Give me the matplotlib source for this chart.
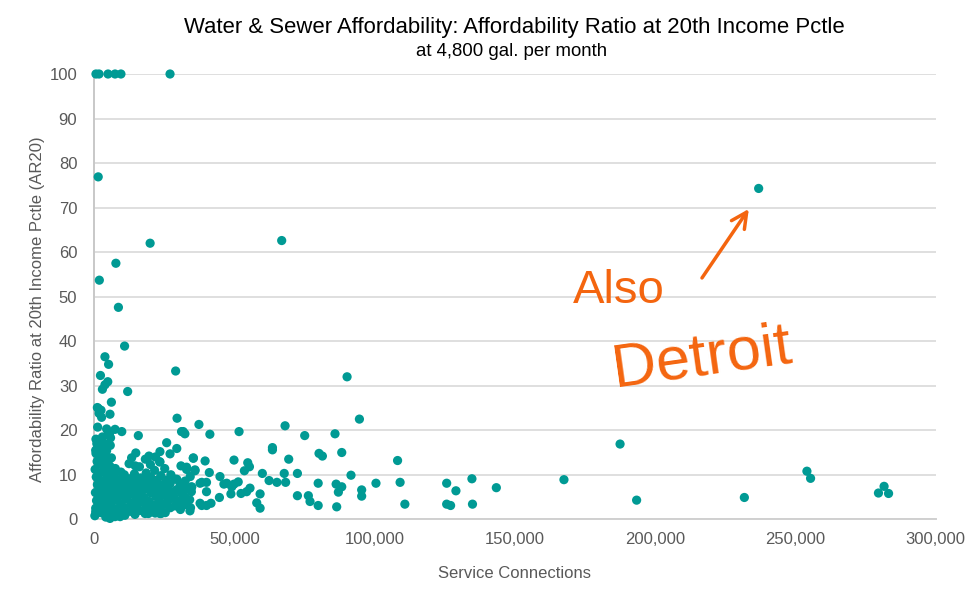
import matplotlib
matplotlib.use("Agg")
import matplotlib.pyplot as plt
from matplotlib.ticker import FuncFormatter

plt.rcParams['font.family'] = ['Liberation Sans', 'DejaVu Sans']

TITLE = "Water & Sewer Affordability: Affordability Ratio at 20th Income Pctle"
SUBTITLE = "at 4,800 gal. per month"
X_LABEL = "Service Connections"
Y_LABEL = "Affordability Ratio at 20th Income Pctle (AR20)"
NOTE_1 = "Also"
NOTE_2 = "Detroit"

x_ticks = [0, 50000, 100000, 150000, 200000, 250000, 300000]
y_ticks = [0, 10, 20, 30, 40, 50, 60, 70, 80, 90, 100]

# Sparse / outlying systems
x_sparse = [700, 1800, 5000, 7500, 9600, 27100, 1500, 20000, 66900, 7800, 1900, 8700,
            10900, 3900, 5200, 29100, 2300, 4900, 3900, 3000, 12000, 6200, 1500, 5700,
            29600, 1200, 2500, 1800, 2700, 37400, 1300, 4500, 7500, 9900, 31200, 32400,
            15800, 41300, 51700, 68100, 75100, 80200, 81400, 63600, 63600, 69400, 79900,
            72500, 67800, 65200, 68300, 72500, 76400, 77000, 79900, 60000, 62400, 59200,
            58000, 59200, 55600, 54400, 52400, 49900, 54800, 55400, 53600, 51400, 49900,
            47300, 46300, 48800, 44900, 44700, 41700, 40100, 38400, 38400, 40100, 40100,
            41100, 39600, 36000, 35400, 33000, 34800, 34200, 90200, 94600, 85900, 88300,
            91600, 108200, 109100, 100500, 95400, 95400, 88300, 86300, 87100, 86500, 110800,
            125700, 129000, 134700, 143400, 125700, 127100, 134900, 49100, 167500, 187500,
            193400, 231800, 254100, 255400, 281600, 279600, 283200, 236900, 5100, 5500,
            25900, 23500, 27100, 29500, 19600, 23500, 35400, 33000, 36000, 31800, 29500,
            37800, 34800, 37800, 23500, 19400]
y_sparse = [100, 100, 100, 100, 100, 100, 76.9, 62.0, 62.6, 57.5, 53.7, 47.6,
            38.9, 36.5, 34.8, 33.3, 32.3, 30.9, 30.2, 29.2, 28.7, 26.3, 24.9, 23.6,
            22.7, 25.1, 24.5, 23.8, 22.9, 21.3, 20.7, 20.3, 20.2, 19.7, 19.7, 19.2,
            18.8, 19.1, 19.7, 21.0, 18.8, 14.8, 14.2, 16.1, 15.6, 13.5, 8.1,
            10.3, 10.3, 8.3, 8.3, 5.3, 5.3, 4.0, 3.1, 10.3, 8.7, 5.7,
            3.7, 2.5, 7.0, 6.2, 5.8, 13.3, 12.7, 11.8, 10.9, 8.4, 7.9,
            8.1, 7.9, 5.7, 9.6, 4.9, 3.6, 3.1, 3.1, 8.3, 8.3, 6.2,
            10.5, 13.1, 11.1, 13.8, 11.7, 7.3, 1.9, 32.0, 22.5, 19.2, 15.0,
            9.9, 13.2, 8.3, 8.1, 6.6, 5.2, 7.3, 7.9, 6.1, 2.8, 3.4,
            8.1, 6.4, 9.1, 7.1, 3.4, 3.1, 3.4, 7.3, 8.9, 16.9,
            4.3, 4.9, 10.8, 9.2, 7.4, 5.9, 5.8, 74.3, 19.3, 19.2,
            17.2, 15.2, 14.7, 15.9, 14.2, 12.9, 13.7, 11.2, 10.9, 19.7, 9.0,
            8.1, 7.2, 3.6, 1.3, 1.3]

# Dense cluster of small systems (read column by column)
x_dense = [300, 600, 900, 500, 1200, 800, 400, 1100, 700, 1400, 700, 3000,
           2400, 2700, 2200, 2900, 2500, 2100, 2800, 2300, 2600, 3000, 4200, 4500,
           3900, 4400, 4100, 4600, 3800, 4300, 4000, 4700, 5700, 5900, 6100, 5500,
           6000, 5800, 5600, 6200, 5900, 7500, 7300, 7800, 7400, 7700, 7200, 7600,
           9200, 9500, 8900, 9400, 9100, 9600, 11000, 10700, 11300, 10900, 11200, 10800,
           12500, 12800, 13100, 12600, 13000, 12700, 13400, 14600, 14300, 14900, 14500, 14800,
           14400, 14700, 14900, 16400, 16100, 16700, 16300, 16600, 16200, 18200, 18500, 17900,
           18400, 18000, 18600, 18300, 20000, 19700, 20300, 19900, 20200, 20100, 21800, 21500,
           22100, 21700, 22000, 21600, 21900, 23600, 23300, 23900, 23500, 23800, 23400, 25400,
           25100, 25700, 25300, 25600, 25200, 27200, 26900, 27500, 27100, 27400, 29000, 28700,
           29300, 28900, 30800, 30500, 31100, 30700, 31000, 32600, 32300, 32900, 32500, 34400,
           34100, 34700, 34300, 5700, 9300, 600, 14400, 23900, 1000, 3500, 5800, 600,
           2200, 4500, 1500, 3200]
y_dense = [0.8, 2.5, 4.2, 6.0, 7.8, 9.5, 11.2, 13.0, 14.8, 16.5, 18.0, 18.5,
           1.5, 3.3, 5.1, 6.9, 8.7, 10.4, 12.2, 14.0, 15.8, 17.4, 0.5, 2.2,
           4.0, 5.8, 7.6, 9.4, 11.1, 12.9, 14.6, 16.8, 1.2, 3.0, 4.8, 6.6,
           8.4, 10.2, 12.0, 13.8, 18.3, 0.6, 2.4, 4.3, 6.1, 7.9, 9.7, 11.4,
           1.5, 3.4, 5.2, 7.0, 8.8, 10.6, 0.9, 2.7, 4.6, 6.4, 8.2, 10.0,
           12.5, 1.8, 3.6, 5.5, 7.3, 9.1, 13.8, 1.1, 2.9, 4.8, 6.6, 8.4,
           10.2, 12.0, 14.9, 2.0, 3.8, 5.7, 7.5, 9.3, 11.8, 1.3, 3.1, 4.9,
           6.8, 8.6, 10.4, 13.5, 2.2, 4.0, 5.9, 7.7, 9.5, 12.3, 1.4, 3.2,
           5.1, 6.9, 8.7, 11.0, 14.0, 2.4, 4.2, 6.0, 7.8, 9.8, 12.9, 1.5,
           3.4, 5.2, 7.0, 8.8, 11.4, 2.6, 4.4, 6.2, 8.0, 10.0, 3.0, 4.8,
           6.6, 9.0, 2.2, 4.0, 5.9, 7.6, 12.0, 3.3, 5.1, 6.9, 8.6, 2.6,
           4.4, 6.2, 9.6, 0.2, 0.6, 1.7, 1.5, 1.3, 17.0, 17.0, 16.6, 15.5,
           15.5, 15.4, 14.5, 14.5]

POINT_COLOR = "#009a94"
NOTE_COLOR = "#f4650f"

fig = plt.figure(figsize=(9.75, 6.01), dpi=100)
ax = fig.add_axes([94 / 975, 1 - 519.3 / 601, (935.7 - 94) / 975, (519.3 - 74) / 601])

ax.scatter(x_dense, y_dense, s=44, color=POINT_COLOR, edgecolors='none', zorder=3, clip_on=False)
ax.scatter(x_sparse, y_sparse, s=44, color=POINT_COLOR, edgecolors='none', zorder=3, clip_on=False)

ax.set_xlim(x_ticks[0], x_ticks[-1])
ax.set_ylim(y_ticks[0], y_ticks[-1])
ax.set_xticks(x_ticks)
ax.set_yticks(y_ticks)
ax.xaxis.set_major_formatter(FuncFormatter(lambda v, p: f"{int(v):,}"))
ax.tick_params(axis='both', length=0, labelsize=12, labelcolor="#595959")
ax.tick_params(axis='y', pad=12)
ax.tick_params(axis='x', pad=9)
ax.yaxis.grid(True, color="#d9d9d9", linewidth=1.2, zorder=0)
ax.set_axisbelow(True)
for side in ['top', 'right']:
    ax.spines[side].set_visible(False)
ax.spines['left'].set_color("#c8c8c8")
ax.spines['left'].set_linewidth(1.4)
ax.spines['left'].set_zorder(2)
ax.spines['bottom'].set_color("#d0d0d0")
ax.spines['bottom'].set_linewidth(1.4)
ax.spines['bottom'].set_zorder(2)

ax.set_xlabel(X_LABEL, fontsize=12, color="#595959", labelpad=14)
ax.set_ylabel(Y_LABEL, fontsize=12, color="#595959")
ax.yaxis.set_label_coords(-0.058, 0.472)

fig.text(514 / 975, 1 - 28 / 601, TITLE, ha='center', va='center', fontsize=15.9, color="#000000")
fig.text(512 / 975, 1 - 52 / 601, SUBTITLE, ha='center', va='center', fontsize=13.4, color="#000000")

# Hand-drawn style annotation
ax.text(0.623, 0.512, NOTE_1, transform=ax.transAxes, ha='center', va='center',
        fontsize=34, color=NOTE_COLOR, zorder=5)
ax.text(0.722, 0.36, NOTE_2, transform=ax.transAxes, ha='center', va='center',
        fontsize=44, color=NOTE_COLOR, rotation=8, zorder=5)
ax.annotate("", xy=(233400, 69.7), xytext=(216700, 54.2),
            arrowprops=dict(arrowstyle="->", color=NOTE_COLOR, lw=2.5,
                            mutation_scale=28, shrinkA=0, shrinkB=0),
            zorder=5)

fig.savefig("out.png", dpi=100)
